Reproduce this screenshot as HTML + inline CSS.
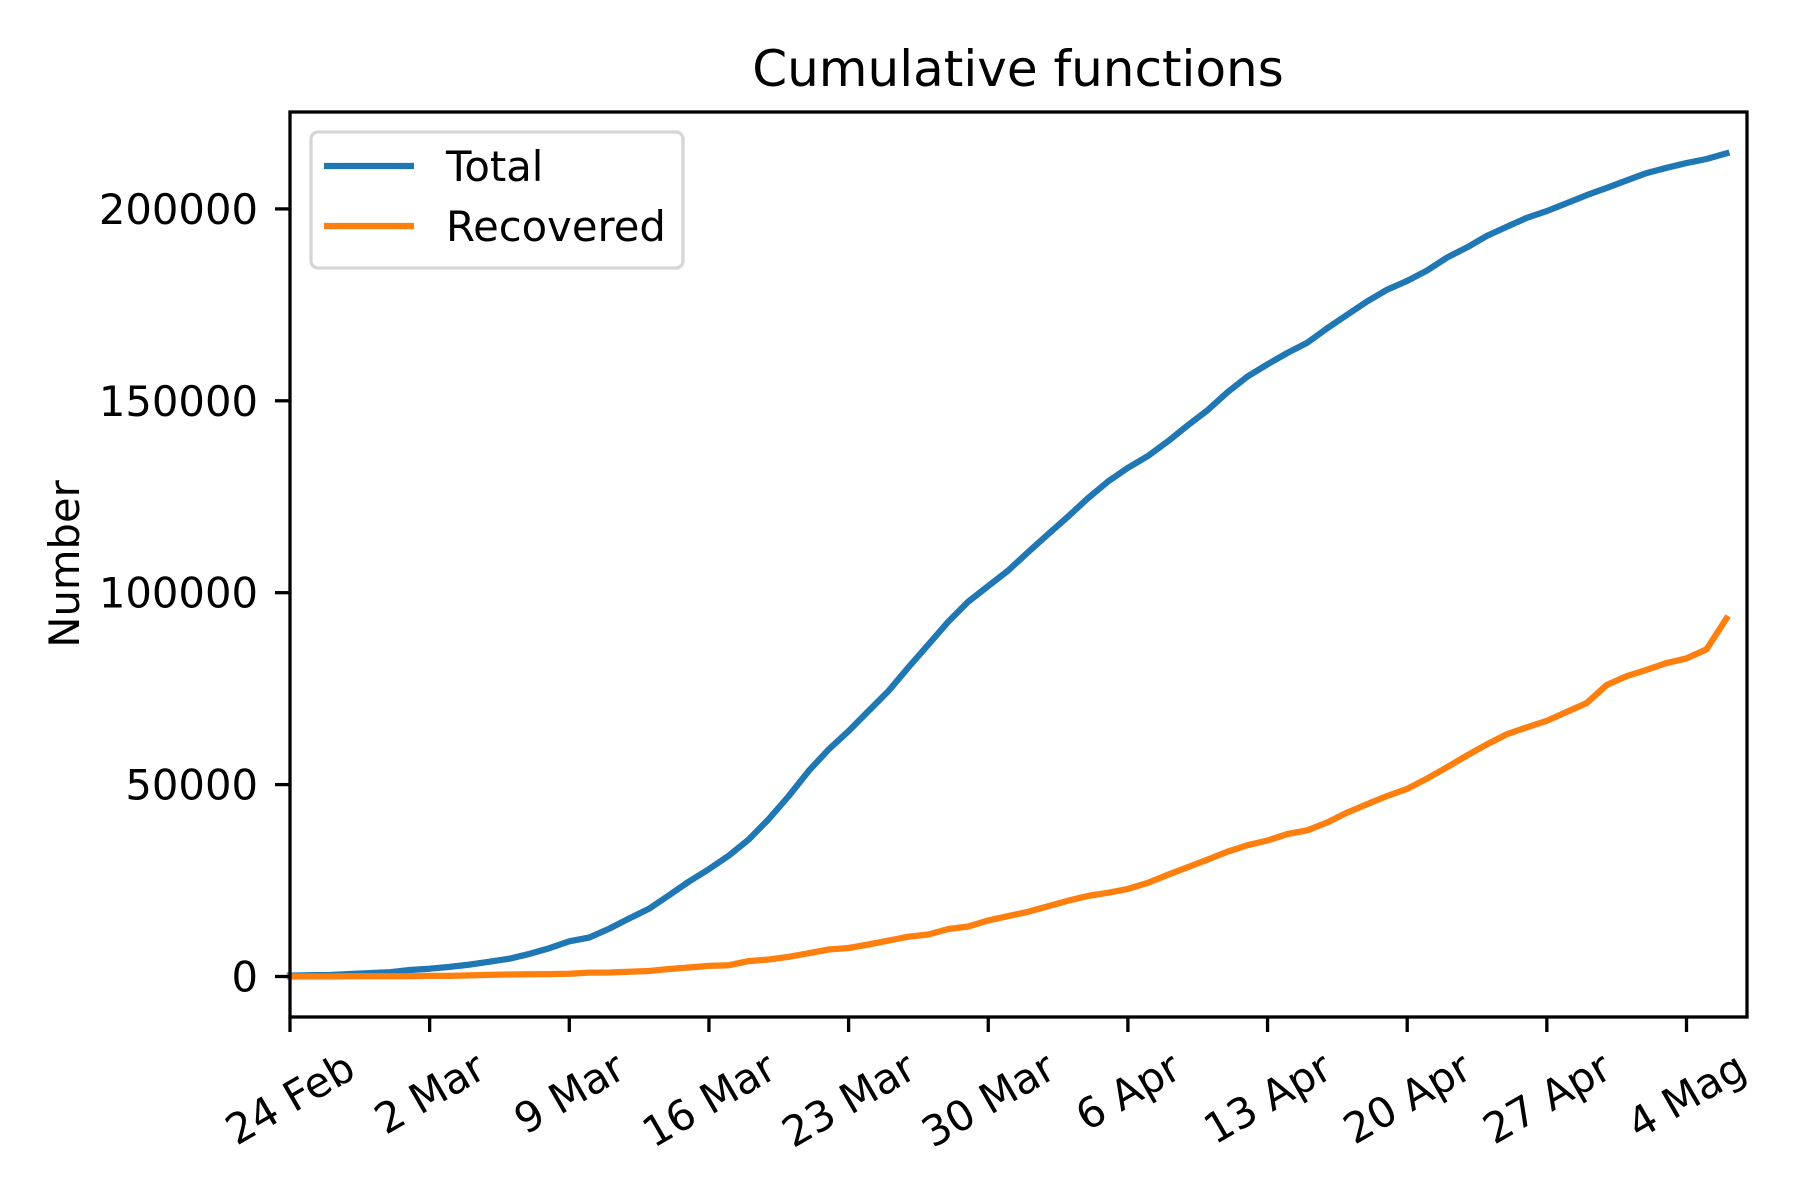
<!DOCTYPE html>
<html><head><meta charset="utf-8"><style>
html,body{margin:0;padding:0;background:#fff;}
svg{display:block;font-family:"DejaVu Sans","Liberation Sans",sans-serif;}
</style></head><body>
<svg id="chart" width="1800" height="1200" viewBox="0 0 1800 1200">
<rect x="0" y="0" width="1800" height="1200" fill="#fff"/>
<text x="1018" y="86" font-size="50" text-anchor="middle">Cumulative functions</text>
<text transform="translate(79,564) rotate(-90)" font-size="41.7" text-anchor="middle">Number</text>
<g id="plot"></g>
<rect x="290" y="112" width="1457" height="905" fill="none" stroke="#000" stroke-width="3.3"/>
<g>
<rect x="311" y="132" width="372" height="136" rx="7" fill="#fff" fill-opacity="0.8" stroke="#d6d6d6" stroke-width="3.3"/>
<line x1="324" y1="166" x2="414" y2="166" stroke="#1f77b4" stroke-width="6.25"/>
<text x="446" y="181" font-size="41.7">Total</text>
<line x1="324" y1="226" x2="414" y2="226" stroke="#ff7f0e" stroke-width="6.25"/>
<text x="446" y="241" font-size="41.7">Recovered</text>
</g>
</svg>
<script>
const totalValues=[229,322,400,650,888,1128,1694,2036,2502,3089,3858,4636,5883,7375,9172,10149,12462,15113,17660,21157,24747,27980,31506,35713,41035,47021,53578,59138,63927,69176,74386,80539,86498,92472,97689,101739,105792,110574,115242,119827,124632,128948,132547,135586,139422,143626,147577,152271,156363,159516,162488,165155,168941,172434,175925,178972,181228,183957,187327,189973,192994,195351,197675,199414,201505,203591,205463,207428,209328,210717,211938,213013,214457];
const recoveredValues=[1,1,3,45,46,46,83,149,160,276,414,523,589,622,724,1004,1045,1258,1439,1966,2335,2749,2941,4025,4440,5129,6072,7024,7432,8326,9362,10361,10950,12384,13030,14620,15729,16847,18278,19758,20996,21815,22837,24392,26491,28470,30455,32534,34211,35435,37130,38092,40164,42727,44927,47055,48877,51600,54543,57576,60498,63120,64928,66624,68941,71252,75945,78249,79914,81654,82879,85231,93245];
const xTickDays=[0,7,14,21,28,35,42,49,56,63,70];
const xTickLabels=["24 Feb","2 Mar","9 Mar","16 Mar","23 Mar","30 Mar","6 Apr","13 Apr","20 Apr","27 Apr","4 Mag"];
const yTickValues=[0,50000,100000,150000,200000];
const yTickLabels=["0","50000","100000","150000","200000"];

const NS="http://www.w3.org/2000/svg";
const plot=document.getElementById('plot');
function xScale(d){return 290+d*19.95;}
function yScale(v){return 976.5-v*0.003838;}
function mk(tag,attrs){const e=document.createElementNS(NS,tag);for(const k in attrs)e.setAttribute(k,attrs[k]);plot.appendChild(e);return e;}

function drawLine(vals,color,name){
  const pts=vals.map((v,i)=>xScale(i).toFixed(1)+","+yScale(v).toFixed(1)).join(" ");
  const p=mk('polyline',{points:pts,fill:"none",stroke:color,"stroke-width":6.25,"stroke-linejoin":"round","stroke-linecap":"square"});
  
  
}
drawLine(totalValues,"#1f77b4","line-total");
drawLine(recoveredValues,"#ff7f0e","line-recovered");

yTickValues.forEach((v,i)=>{
  const y=yScale(v);
  const t=mk('line',{x1:275,y1:y,x2:290,y2:y,stroke:"#000","stroke-width":3.3});
  
  
  const l=mk('text',{x:258,y:y+15,"font-size":41.7,"text-anchor":"end"});
  l.textContent=yTickLabels[i];
  
  
});
xTickDays.forEach((d,i)=>{
  const x=xScale(d);
  const t=mk('line',{x1:x,y1:1017,x2:x,y2:1032,stroke:"#000","stroke-width":3.3});
  
  
  const l=mk('text',{"font-size":41.7,"text-anchor":"middle","dominant-baseline":"central"});
  l.textContent=xTickLabels[i];
  
  
  const w=l.getComputedTextLength();
  const h=w*0.5+31*0.866;
  const yc=1050+h/2;
  l.setAttribute('transform','translate('+x+','+yc+') rotate(-30)');
});
</script>
</body></html>
